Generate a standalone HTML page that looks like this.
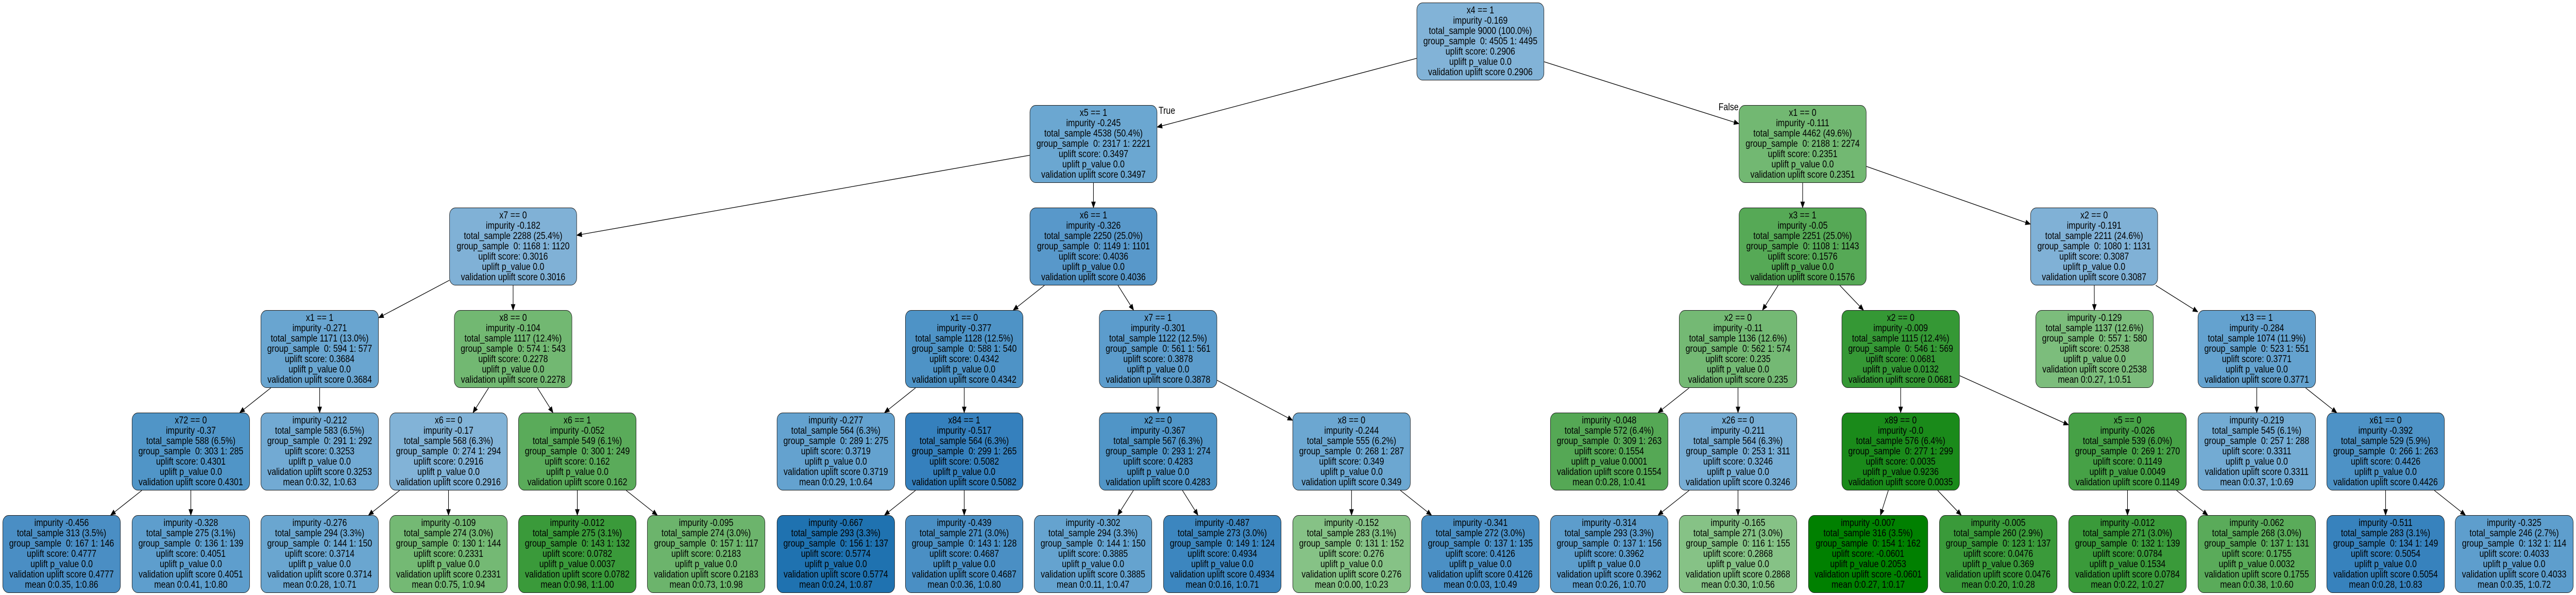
<!DOCTYPE html>
<html style="overflow:hidden;"><head><meta charset="utf-8">
<style>
html,body{margin:0;padding:0;background:#fff;overflow:hidden;}
#wrap{position:absolute;left:0;top:0;width:5939px;height:1155px;overflow:hidden;transform-origin:0 0;font-family:"Liberation Sans",Arial,sans-serif;background:#fff;}
.n{position:absolute;border:1px solid #1a1a1a;border-radius:14px;text-align:center;font-size:19px;line-height:20px;color:#000;white-space:pre;padding-top:5px;box-sizing:border-box;height:151px;overflow:hidden;}
svg{position:absolute;left:0;top:0;}
.lbl{position:absolute;font-size:19px;}
</style></head><body>
<div id="wrap">
<svg id="s" width="5939" height="1155"></svg>
<div class="lbl" style="left:2671px;top:205px;">True</div>
<div class="lbl" style="left:3962px;top:198px;">False</div>
</div>
<script>
var wrap=document.getElementById('wrap');
var rows=[5,204,403,602,801,1000];
function I(s,imp,ts,g,us,p,v){return [s,'impurity '+imp,'total_sample '+ts,'group_sample  '+g,'uplift score: '+us,'uplift p_value '+p,'validation uplift score '+us];}
function L(imp,ts,g,us,p,m){return ['impurity '+imp,'total_sample '+ts,'group_sample  '+g,'uplift score: '+us,'uplift p_value '+p,'validation uplift score '+us,'mean '+m];}
var N={
root:[3266,0,294,'#82b3d7',I('x4 == 1','-0.169','9000 (100.0%)','0: 4505 1: 4495','0.2906','0.0'),null],
A:[2374,1,294,'#6ba7d1',I('x5 == 1','-0.245','4538 (50.4%)','0: 2317 1: 2221','0.3497','0.0'),'root'],
B:[4009,1,294,'#72b872',I('x1 == 0','-0.111','4462 (49.6%)','0: 2188 1: 2274','0.2351','0.0'),'root'],
C:[1036,2,294,'#80b1d6',I('x7 == 0','-0.182','2288 (25.4%)','0: 1168 1: 1120','0.3016','0.0'),'A'],
D:[2374,2,294,'#5898ca',I('x6 == 1','-0.326','2250 (25.0%)','0: 1149 1: 1101','0.4036','0.0'),'A'],
E:[4009,2,294,'#56a956',I('x3 == 1','-0.05','2251 (25.0%)','0: 1108 1: 1143','0.1576','0.0'),'B'],
F:[4681,2,294,'#80b1d6',I('x2 == 0','-0.191','2211 (24.6%)','0: 1080 1: 1131','0.3087','0.0'),'B'],
G:[601,3,272,'#69a5d0',I('x1 == 1','-0.271','1171 (13.0%)','0: 594 1: 577','0.3684','0.0'),'C'],
H:[1047,3,272,'#72b872',I('x8 == 0','-0.104','1117 (12.4%)','0: 574 1: 543','0.2278','0.0'),'C'],
I1:[2087,3,272,'#4e93c6',I('x1 == 0','-0.377','1128 (12.5%)','0: 588 1: 540','0.4342','0.0'),'D'],
J:[2534,3,272,'#5c9ccc',I('x7 == 1','-0.301','1122 (12.5%)','0: 561 1: 561','0.3878','0.0'),'D'],
K:[3871,3,272,'#74b974',I('x2 == 0','-0.11','1136 (12.6%)','0: 562 1: 574','0.235','0.0'),'E'],
Lx:[4246,3,272,'#359835',['x2 == 0','impurity -0.009','total_sample 1115 (12.4%)','group_sample  0: 546 1: 569','uplift score: 0.0681','uplift p_value 0.0132','validation uplift score 0.0681'],'E'],
M:[4693,3,272,'#7cbd7c',L('-0.129','1137 (12.6%)','0: 557 1: 580','0.2538','0.0','0:0.27, 1:0.51'),'F'],
Nn:[5067,3,272,'#64a2cf',I('x13 == 1','-0.284','1074 (11.9%)','0: 523 1: 551','0.3771','0.0'),'F'],
O:[304,4,272,'#5095c7',I('x72 == 0','-0.37','588 (6.5%)','0: 303 1: 285','0.4301','0.0'),'G'],
P:[601,4,272,'#72aad3',L('-0.212','583 (6.5%)','0: 291 1: 292','0.3253','0.0','0:0.32, 1:0.63'),'G'],
Q:[898,4,272,'#82b3d7',I('x6 == 0','-0.17','568 (6.3%)','0: 274 1: 294','0.2916','0.0'),'H'],
R:[1195,4,272,'#5aab5a',I('x6 == 1','-0.052','549 (6.1%)','0: 300 1: 249','0.162','0.0'),'H'],
S:[1791,4,272,'#64a2cf',L('-0.277','564 (6.3%)','0: 289 1: 275','0.3719','0.0','0:0.29, 1:0.64'),'I1'],
T:[2087,4,272,'#3580bd',I('x84 == 1','-0.517','564 (6.3%)','0: 299 1: 265','0.5082','0.0'),'I1'],
U:[2534,4,272,'#5095c7',I('x2 == 0','-0.367','567 (6.3%)','0: 293 1: 274','0.4283','0.0'),'J'],
V:[2980,4,272,'#6ca7d1',I('x8 == 0','-0.244','555 (6.2%)','0: 268 1: 287','0.349','0.0'),'J'],
W:[3574,4,272,'#55a855',L('-0.048','572 (6.4%)','0: 309 1: 263','0.1554','0.0001','0:0.28, 1:0.41'),'K'],
X:[3871,4,272,'#77add4',I('x26 == 0','-0.211','564 (6.3%)','0: 253 1: 311','0.3246','0.0'),'K'],
Y:[4246,4,272,'#1a8a1a',['x89 == 0','impurity -0.0','total_sample 576 (6.4%)','group_sample  0: 277 1: 299','uplift score: 0.0035','uplift p_value 0.9236','validation uplift score 0.0035'],'Lx'],
Z:[4769,4,272,'#46a146',['x5 == 0','impurity -0.026','total_sample 539 (6.0%)','group_sample  0: 269 1: 270','uplift score: 0.1149','uplift p_value 0.0049','validation uplift score 0.1149'],'Lx'],
AA:[5067,4,272,'#73abd3',L('-0.219','545 (6.1%)','0: 257 1: 288','0.3311','0.0','0:0.37, 1:0.69'),'Nn'],
AB:[5364,4,272,'#4d92c6',I('x61 == 0','-0.392','529 (5.9%)','0: 266 1: 263','0.4426','0.0'),'Nn'],
l1:[6,5,272,'#4a8ec4',L('-0.456','313 (3.5%)','0: 167 1: 146','0.4777','0.0','0:0.35, 1:0.86'),'O'],
l2:[304,5,272,'#5e9ecd',L('-0.328','275 (3.1%)','0: 136 1: 139','0.4051','0.0','0:0.41, 1:0.80'),'O'],
l3:[601,5,272,'#6aa6d0',L('-0.276','294 (3.3%)','0: 144 1: 150','0.3714','0.0','0:0.28, 1:0.71'),'Q'],
l4:[898,5,272,'#74b974',L('-0.109','274 (3.0%)','0: 130 1: 144','0.2331','0.0','0:0.75, 1:0.94'),'Q'],
l5:[1195,5,272,'#3a9a3a',L('-0.012','275 (3.1%)','0: 143 1: 132','0.0782','0.0037','0:0.98, 1:1.00'),'R'],
l6:[1492,5,272,'#6cb46c',L('-0.095','274 (3.0%)','0: 157 1: 117','0.2183','0.0','0:0.73, 1:0.98'),'R'],
l7:[1791,5,272,'#1f72b0',L('-0.667','293 (3.3%)','0: 156 1: 137','0.5774','0.0','0:0.24, 1:0.87'),'T'],
l8:[2087,5,272,'#4a8fc4',L('-0.439','271 (3.0%)','0: 143 1: 128','0.4687','0.0','0:0.36, 1:0.80'),'T'],
l9:[2384,5,272,'#65a3cf',L('-0.302','294 (3.3%)','0: 144 1: 150','0.3885','0.0','0:0.11, 1:0.47'),'U'],
l10:[2682,5,272,'#3c86bf',L('-0.487','273 (3.0%)','0: 149 1: 124','0.4934','0.0','0:0.16, 1:0.71'),'U'],
l11:[2980,5,272,'#86c286',L('-0.152','283 (3.1%)','0: 131 1: 152','0.276','0.0','0:0.00, 1:0.23'),'V'],
l12:[3277,5,272,'#4b90c5',L('-0.341','272 (3.0%)','0: 137 1: 135','0.4126','0.0','0:0.03, 1:0.49'),'V'],
l13:[3574,5,272,'#5d9dcc',L('-0.314','293 (3.3%)','0: 137 1: 156','0.3962','0.0','0:0.26, 1:0.70'),'X'],
l14:[3871,5,272,'#86c286',L('-0.165','271 (3.0%)','0: 116 1: 155','0.2868','0.0','0:0.30, 1:0.56'),'X'],
l15:[4169,5,276,'#008000',L('-0.007','316 (3.5%)','0: 154 1: 162','-0.0601','0.2053','0:0.27, 1:0.17'),'Y'],
l16:[4471,5,272,'#3a9a3a',L('-0.005','260 (2.9%)','0: 123 1: 137','0.0476','0.369','0:0.20, 1:0.28'),'Y'],
l17:[4769,5,272,'#3a9a3a',L('-0.012','271 (3.0%)','0: 132 1: 139','0.0784','0.1534','0:0.22, 1:0.27'),'Z'],
l18:[5067,5,272,'#5aab5a',L('-0.062','268 (3.0%)','0: 137 1: 131','0.1755','0.0032','0:0.38, 1:0.60'),'Z'],
l19:[5364,5,272,'#3782bd',L('-0.511','283 (3.1%)','0: 134 1: 149','0.5054','0.0','0:0.28, 1:0.83'),'AB'],
l20:[5660,5,273,'#5e9ecd',L('-0.325','246 (2.7%)','0: 132 1: 114','0.4033','0.0','0:0.35, 1:0.72'),'AB']
};
var H=151,svg=document.getElementById('s'),out='';
function rect(k){var n=N[k];return {x:n[0],y:rows[n[1]],w:n[2],h:H,cx:n[0]+n[2]/2,cy:rows[n[1]]+H/2};}
function clip(r,dx,dy){var tx=dx?(r.w/2)/Math.abs(dx):1e9,ty=dy?(r.h/2)/Math.abs(dy):1e9;var t=Math.min(tx,ty);return [r.cx+dx*t,r.cy+dy*t];}
for(var k in N){
 var n=N[k],d=document.createElement('div');d.className='n';
 d.style.left=n[0]+'px';d.style.top=rows[n[1]]+'px';d.style.width=n[2]+'px';d.style.background=n[3];
 d.textContent=n[4].join('\n');wrap.appendChild(d);
 if(n[5]){
  var p=rect(n[5]),c=rect(k),dx=c.cx-p.cx,dy=c.cy-p.cy;
  var a=clip(p,dx,dy),b=clip(c,-dx,-dy);
  var len=Math.hypot(b[0]-a[0],b[1]-a[1]),ux=(b[0]-a[0])/len,uy=(b[1]-a[1])/len;
  var bx=b[0]-ux*11,by=b[1]-uy*11,px=-uy*4.5,py=ux*4.5;
  out+='<line x1="'+a[0]+'" y1="'+a[1]+'" x2="'+bx+'" y2="'+by+'" stroke="#000" stroke-width="1.3"/>';
  out+='<polygon points="'+b[0]+','+b[1]+' '+(bx+px)+','+(by+py)+' '+(bx-px)+','+(by-py)+'" fill="#000" stroke="#000"/>';
 }
}
svg.innerHTML=out;
function fit(){
 var w=document.documentElement.clientWidth||window.innerWidth||5939;
 var h=document.documentElement.clientHeight||window.innerHeight||1155;
 var sx=w/5939,sy=h/1155;
 if(Math.abs(sx-1)<0.002&&Math.abs(sy-1)<0.002){wrap.style.transform='';}
 else{wrap.style.transform='scale('+sx+','+sy+')';}
}
fit();window.addEventListener('resize',fit);
</script>
</body></html>
